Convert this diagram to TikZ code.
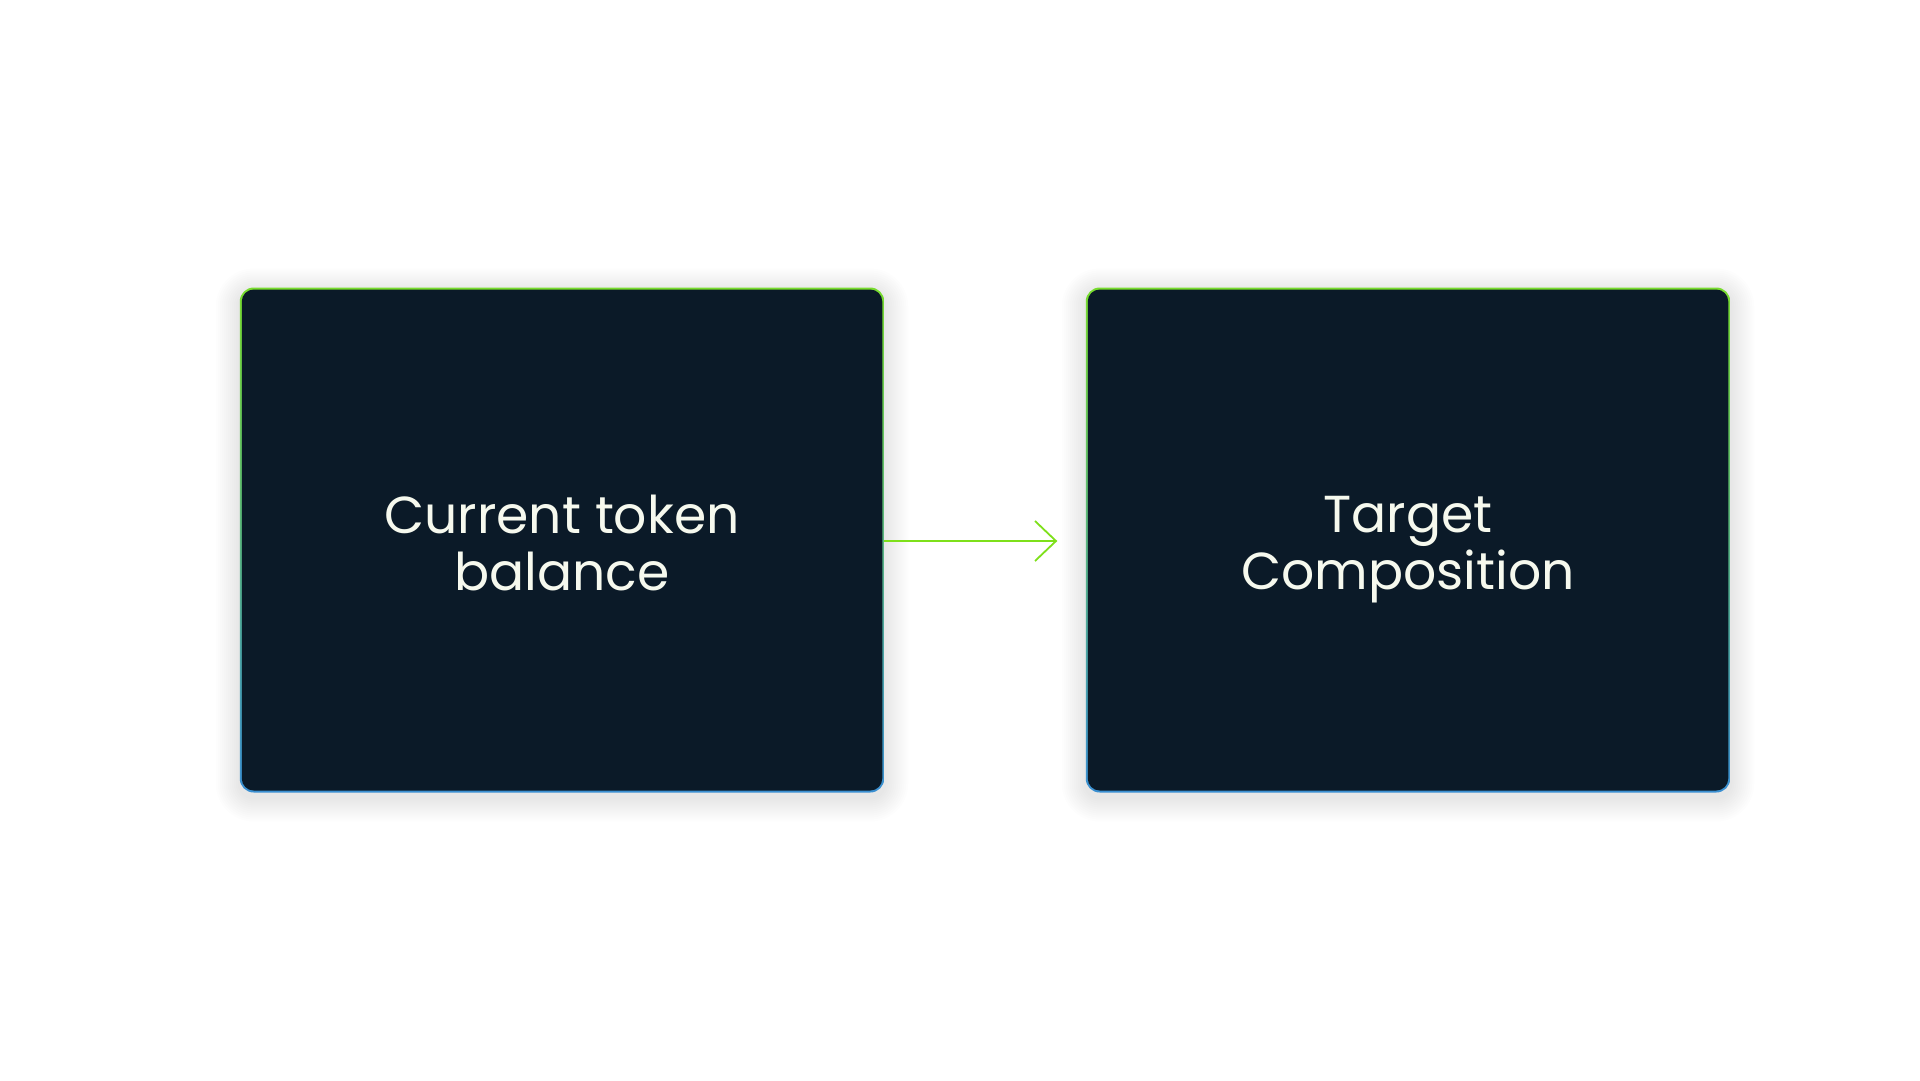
\documentclass[tikz,border=0pt]{standalone}
\usepackage{fontspec}
\setmainfont{Poppins}
\definecolor{boxfill}{HTML}{0B1A28}
\definecolor{txt}{HTML}{F6F9EE}
\definecolor{edgetop}{HTML}{78DC2E}
\definecolor{edgebot}{HTML}{3A8FD2}
\definecolor{arrowc}{HTML}{7EE01A}
\tikzset{
  outerbox/.style={minimum width=644.5pt, minimum height=505pt, rounded corners=14pt,
    top color=edgetop, bottom color=edgebot, inner sep=0pt},
  innerbox/.style={minimum width=640.5pt, minimum height=501pt, rounded corners=12pt,
    fill=boxfill, inner sep=0pt},
  label/.style={inner sep=0pt, text=txt, align=center, text depth=0pt,
    font=\fontsize{52}{57}\selectfont},
  link/.style={draw=arrowc, line width=1.8pt},
  softshadow/.style={fill=black, fill opacity=0.008, rounded corners=#1}
}
\begin{document}
\begin{tikzpicture}[x=1pt,y=-1pt]
\fill[white] (0,0) rectangle (1920,1080);
\useasboundingbox (0,0) rectangle (1920,1080);
\foreach \cx in {562,1408}{
  \foreach \r in {2,4,...,24}{
    \fill[softshadow=14pt+\r pt] (\cx-322.25-\r,540-252.5-\r+5) rectangle (\cx+322.25+\r,540+252.5+\r+5);
  }
}
\node[outerbox] (a) at (562,540) {};
\node[innerbox] (ai) at (a.center) {};
\node[label] (at) at ([yshift=-3pt]a.center) {Current token\\balance};
\node[outerbox] (b) at (1408,540) {};
\node[innerbox] (bi) at (b.center) {};
\node[label] (bt) at ([yshift=-3pt]b.center) {Target\\Composition};
\coordinate (tip) at (1056,541);
\draw[link] (a.east |- tip) -- (tip);
\draw[link] ([shift={(-21,-20)}]tip) -- (tip) -- ([shift={(-21,20)}]tip);
\end{tikzpicture}
\end{document}
